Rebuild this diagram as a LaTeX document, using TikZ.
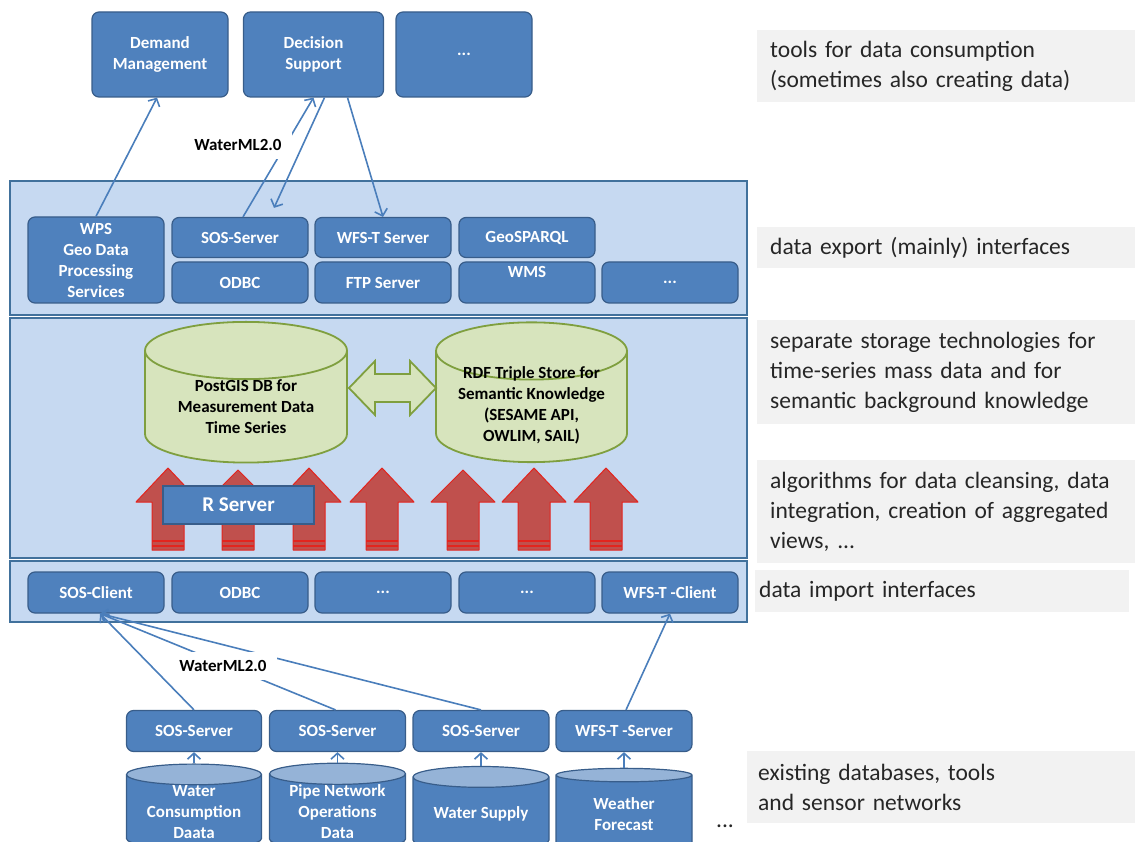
\documentclass[tikz,border=0pt]{standalone}
\usepackage{fontspec}
\setmainfont{Carlito}
\usepackage{tikz}
\usetikzlibrary{shapes.geometric,arrows.meta}

\definecolor{boxblue}{HTML}{4F81BD}
\definecolor{boxedge}{HTML}{385D8A}
\definecolor{capblue}{HTML}{95B3D7}
\definecolor{panelblue}{HTML}{C6D9F1}
\definecolor{paneledge}{HTML}{41719C}
\definecolor{lineblue}{HTML}{4A7EBB}
\definecolor{cylgreen}{HTML}{D7E4BD}
\definecolor{cyledge}{HTML}{7F9F3F}
\definecolor{arrowred}{HTML}{C0504D}
\definecolor{arrowedge}{HTML}{E3241E}
\definecolor{notegray}{HTML}{F2F2F2}

\begin{document}
\begin{tikzpicture}[x=1pt, y=-1pt,
	box/.style={rectangle, rounded corners=7pt, fill=boxblue, draw=boxedge, line width=1.2pt, text=white, font=\bfseries\fontsize{17}{21}\selectfont, align=center, inner sep=0pt},
	panel/.style={fill=panelblue, draw=paneledge, line width=1.6pt},
	note/.style={rectangle, fill=notegray, anchor=north west, text width=366pt, inner xsep=13pt, inner ysep=0pt, align=left, text=black!85, font=\fontsize{23.5}{30}\selectfont},
	greencyl/.style={cylinder, shape border rotate=90, aspect=0.42, fill=cylgreen, draw=cyledge, line width=1.8pt, font=\bfseries\fontsize{17}{21}\selectfont, align=center, inner sep=0pt},
	bluecyl/.style={cylinder, shape border rotate=90, aspect=0.22, draw=boxedge, line width=1.2pt, cylinder uses custom fill, cylinder body fill=boxblue, cylinder end fill=capblue, text=white, font=\bfseries\fontsize{17}{21}\selectfont, align=center, inner sep=0pt},
	redarrow/.style={fill=arrowred, draw=arrowedge, line width=1pt, line join=round},
	redbar/.style={draw=arrowedge, line width=1.8pt},
	greenarrow/.style={fill=cylgreen, draw=cyledge, line width=1.8pt},
	conn/.style={draw=lineblue, line width=1.6pt, -{Straight Barb[length=6pt,width=13pt]}},
	wml/.style={fill=white, inner xsep=10pt, inner ysep=8pt, font=\bfseries\fontsize{17}{21}\selectfont}]

	\path[use as bounding box, clip] (0,0) rectangle (1135,842);

	% layers
	\draw[panel] (10,181) rectangle (747,315);
	\draw[panel] (10,318) rectangle (747,558);
	\draw[panel] (10,561) rectangle (747,622);

	% tools on top
	\node[box, minimum width=136pt, minimum height=85pt] (demand) at (160,54.5) {Demand\\Management};
	\node[box, minimum width=140pt, minimum height=85pt] (decision) at (313.5,54.5) {Decision\\Support};
	\node[box, minimum width=136pt, minimum height=85pt] (toolsmore) at (464,54.5) {...};

	% export interfaces
	\node[box, minimum width=136pt, minimum height=86pt] (wps) at (96,260) {WPS\\Geo Data\\Processing\\Services};
	\node[box, minimum width=136pt, minimum height=40pt] (sosexp) at (240,237.5) {SOS-Server};
	\node[box, minimum width=136pt, minimum height=40pt] (wfsexp) at (383,237.5) {WFS-T Server};
	\node[box, minimum width=136pt, minimum height=40pt] (geosparql) at (527,237.5) {GeoSPARQL};
	\node[box, minimum width=136pt, minimum height=41pt] (odbcexp) at (240,282.5) {ODBC};
	\node[box, minimum width=136pt, minimum height=41pt] (ftp) at (383,282.5) {FTP Server};
	\node[box, minimum width=136pt, minimum height=41pt] (wms) at (527,282.5) {WMS\\~};
	\node[box, minimum width=136pt, minimum height=41pt] (expmore) at (670,282.5) {...};

	% storage
	\node[greencyl, minimum width=202pt, minimum height=100pt] (postgis) at (246,407) {PostGIS DB for\\Measurement Data\\Time Series};
	\node[greencyl, minimum width=191pt, minimum height=100pt] (rdf) at (531.5,407) {\phantom{Measurement Data}\\~\\~};
	\node[font=\bfseries\fontsize{17}{21}\selectfont, align=center] (rdftext) at (531.5,405) {RDF Triple Store for\\Semantic Knowledge\\(SESAME API,\\OWLIM, SAIL)};
	\draw[greenarrow] (349,388) -- (375,361) -- (375,374) -- (410,374) -- (410,361) -- (436,388) -- (410,415) -- (410,402) -- (375,402) -- (375,415) -- cycle;

	% algorithms
	\draw[redarrow] (152,550) -- (152,502) -- (136,502) -- (168,468) -- (200,502) -- (184,502) -- (184,550) -- cycle;
	\draw[redarrow] (222,550) -- (222,502) -- (206,502) -- (238,470) -- (270,502) -- (254,502) -- (254,550) -- cycle;
	\draw[redarrow] (293,550) -- (293,502) -- (277,502) -- (309,468) -- (341,502) -- (325,502) -- (325,550) -- cycle;
	\draw[redarrow] (366,550) -- (366,502) -- (350,502) -- (382,468) -- (414,502) -- (398,502) -- (398,550) -- cycle;
	\draw[redarrow] (447,550) -- (447,502) -- (431,502) -- (463,470) -- (495,502) -- (479,502) -- (479,550) -- cycle;
	\draw[redarrow] (518,550) -- (518,502) -- (502,502) -- (534,468) -- (566,502) -- (550,502) -- (550,550) -- cycle;
	\draw[redarrow] (590,550) -- (590,502) -- (574,502) -- (606,468) -- (638,502) -- (622,502) -- (622,550) -- cycle;
	\draw[redbar] (152,541) -- (184,541) (152,546) -- (184,546);
	\draw[redbar] (222,541) -- (254,541) (222,546) -- (254,546);
	\draw[redbar] (293,541) -- (325,541) (293,546) -- (325,546);
	\draw[redbar] (366,541) -- (398,541) (366,546) -- (398,546);
	\draw[redbar] (447,541) -- (479,541) (447,546) -- (479,546);
	\draw[redbar] (518,541) -- (550,541) (518,546) -- (550,546);
	\draw[redbar] (590,541) -- (622,541) (590,546) -- (622,546);
	\node[rectangle, fill=boxblue, draw=boxedge, line width=1.6pt, minimum width=151pt, minimum height=38pt, text=white, font=\bfseries\fontsize{21}{25}\selectfont] (rserver) at (238.5,505) {R Server};

	% import interfaces
	\node[box, minimum width=136pt, minimum height=41pt] (sosclient) at (96,592.5) {SOS-Client};
	\node[box, minimum width=136pt, minimum height=41pt] (odbcimp) at (240,592.5) {ODBC};
	\node[box, minimum width=136pt, minimum height=41pt] (impmore1) at (383,592.5) {...};
	\node[box, minimum width=136pt, minimum height=41pt] (impmore2) at (527,592.5) {...};
	\node[box, minimum width=136pt, minimum height=41pt] (wfsclient) at (670,592.5) {WFS-T -Client};

	% existing sources
	\node[box, minimum width=135pt, minimum height=41pt] (sos1) at (194,731) {SOS-Server};
	\node[box, minimum width=136pt, minimum height=41pt] (sos2) at (337.5,731) {SOS-Server};
	\node[box, minimum width=136pt, minimum height=41pt] (sos3) at (481,731) {SOS-Server};
	\node[box, minimum width=136pt, minimum height=41pt] (wfss) at (624,731) {WFS-T -Server};
	\node[bluecyl, minimum width=135pt, minimum height=80pt] (consumption) at (194,812) {Water\\Consumption\\Daata};
	\node[bluecyl, minimum width=136pt, minimum height=80pt] (pipes) at (337.5,812) {Pipe Network\\Operations\\Data};
	\node[bluecyl, minimum width=136pt, minimum height=84pt] (supply) at (481,814) {Water Supply};
	\node[bluecyl, minimum width=136pt, minimum height=84pt] (weather) at (624,814) {Weather\\Forecast};
	\node[font=\fontsize{23.5}{30}\selectfont, text=black!85] (srcmore) at (725,826) {...};

	% connectors
	\draw[conn] (consumption.north) -- (sos1.south);
	\draw[conn] (pipes.north) -- (sos2.south);
	\draw[conn] (supply.north) -- (sos3.south);
	\draw[conn] (weather.north) -- (wfss.south);
	\draw[conn] (sos1.north) -- ([xshift=4pt]sosclient.south);
	\draw[conn] ([xshift=-2pt]sos2.north) -- ([xshift=4pt]sosclient.south);
	\draw[conn] (sos3.north) -- ([xshift=4pt]sosclient.south);
	\draw[conn] ([xshift=2pt]wfss.north) -- (wfsclient.south);
	\draw[conn] (wps.north) -- ([xshift=-3pt]demand.south);
	\draw[conn] ([xshift=3pt]sosexp.north) -- (decision.south);
	\draw[conn] ([xshift=11pt]decision.south) -- ([xshift=34pt,yshift=9pt]sosexp.north);
	\draw[conn] ([xshift=34pt]decision.south) -- (wfsexp.north);
	\node[wml] (wmlup) at (238,145) {WaterML2.0};
	\node[wml] (wmldown) at (223,666) {WaterML2.0};

	% explanations
	\node[note, minimum height=72pt] (n1) at (757,30) {tools for data consumption\\(sometimes also creating data)};
	\node[note, minimum height=41pt] (n2) at (757,227) {data export (mainly) interfaces};
	\node[note, minimum height=104pt] (n3) at (757,320) {separate storage technologies for\\time-series mass data and for\\semantic background knowledge};
	\node[note, minimum height=103pt] (n4) at (757,460) {algorithms for data cleansing, data\\integration, creation of aggregated\\views, ...};
	\node[note, minimum height=42pt, inner xsep=4pt] (n5) at (755,570) {data import interfaces};
	\node[note, minimum height=72pt, inner xsep=11pt] (n6) at (747,751) {existing databases, tools\\and sensor networks};
\end{tikzpicture}
\end{document}
